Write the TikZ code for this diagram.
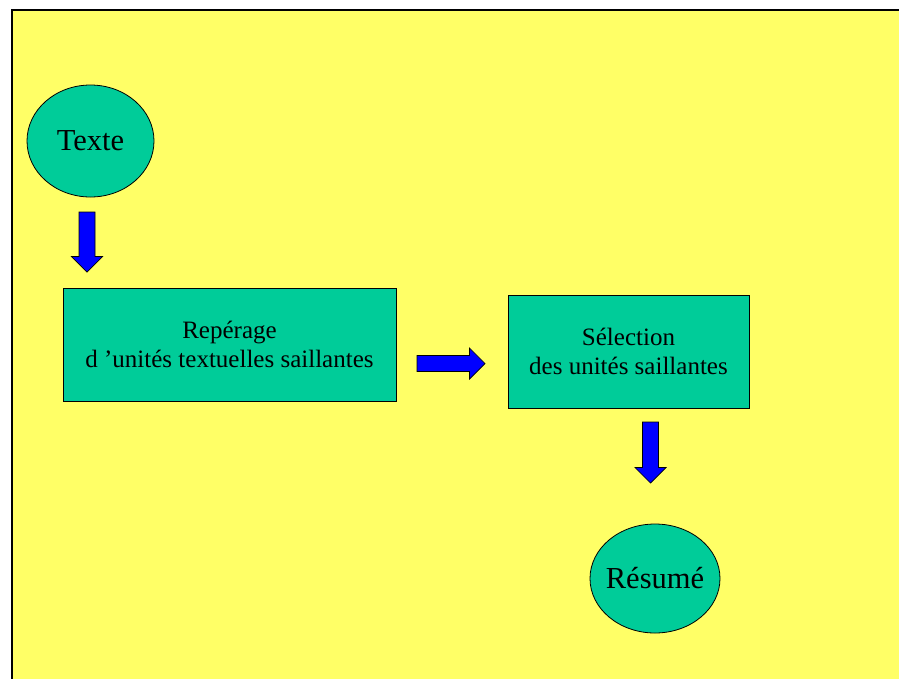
\documentclass[tikz,border=0pt]{standalone}
\usepackage{fontspec}
\setmainfont{Liberation Serif}
\usetikzlibrary{shapes.geometric,calc}
\definecolor{slideyellow}{HTML}{FFFF66}
\definecolor{boxgreen}{HTML}{00CC99}
\definecolor{arrowblue}{HTML}{0000FF}
% zero-width label, so an ellipse keeps the size it is given
\newcommand\flatlabel[1]{\makebox[0pt]{#1}}
\begin{document}
\begin{tikzpicture}[x=1pt,y=-1pt,
  every node/.style={inner sep=0pt, outer sep=0pt},
  blob/.style={ellipse, draw=black, line width=0.8pt, fill=boxgreen,
    font=\fontsize{30.5}{35}\selectfont},
  stage/.style={rectangle, draw=black, line width=0.8pt, fill=boxgreen,
    align=center, font=\fontsize{25}{28.5}\selectfont},
  % block arrow of given length, pointing along the local x axis
  blockarrow/.pic={
    \draw[fill=arrowblue, draw=black, line width=0.7pt, line join=miter]
      (0,-8) -- ({#1-15.5},-8) -- ({#1-15.5},-15.5) -- (#1,0)
      -- ({#1-15.5},15.5) -- ({#1-15.5},8) -- (0,8) -- cycle;}
]
% page and slide frame
\fill[white] (0,0) rectangle (899,678);
\useasboundingbox (0,0) rectangle (899,678);
\clip (0,0) rectangle (899,678);
\draw[fill=slideyellow, line width=2pt] (12,10) rectangle (910,690);

% flow stages
\node[blob, minimum width=127pt, minimum height=112pt] (texte) at (90.5,141) {\flatlabel{Texte}};
\node[stage, minimum width=333pt, minimum height=113pt] (reperage) at (229.5,344.5)
  {Repérage\\d ’unités textuelles saillantes};
\node[stage, minimum width=241pt, minimum height=113pt] (selection) at (628.5,351.5)
  {Sélection\\des unités saillantes};
\node[blob, minimum width=130pt, minimum height=109pt] (resume) at (655,578.5) {\flatlabel{Résumé}};

% block arrows between the stages
\pic[rotate=-90] at ($(texte.south)+(-3.5,15)$) {blockarrow=60};
\pic at ($(reperage.east)+(21,19)$) {blockarrow=68};
\pic[rotate=-90] at ($(selection.south)+(22,14)$) {blockarrow=61};
\end{tikzpicture}
\end{document}
